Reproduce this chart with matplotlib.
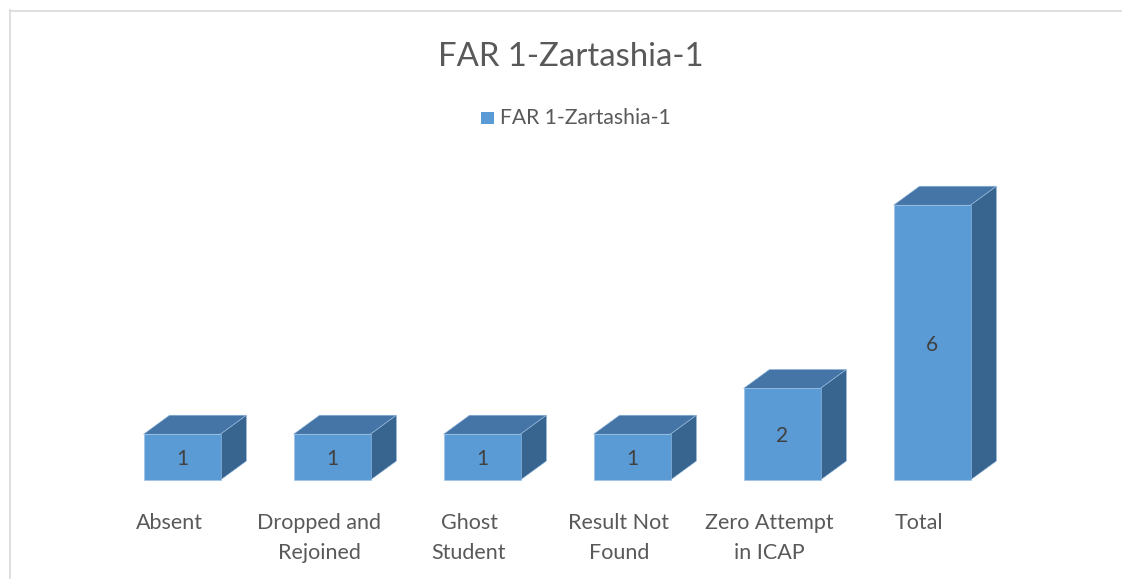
import matplotlib
matplotlib.use("Agg")
import matplotlib.pyplot as plt
from matplotlib.patches import Polygon, Rectangle
from matplotlib.lines import Line2D

# Chart data
categories = ["Absent", "Dropped and\nRejoined", "Ghost\nStudent",
              "Result Not\nFound", "Zero Attempt\nin ICAP", "Total"]
values = [1, 1, 1, 1, 2, 6]
series_name = "FAR 1-Zartashia-1"
chart_title = "FAR 1-Zartashia-1"

W, H = 1122, 579
fig = plt.figure(figsize=(W / 100, H / 100), dpi=100)
fig.patch.set_facecolor("white")

FONT = ["Lato", "DejaVu Sans"]
TXT = "#595959"
FRONT = "#5B9BD5"
TOP = "#4574A7"
SIDE = "#386590"
EDGE = "#9CC0E3"

# plotting area: 1 category = 150 px, 1 unit = 45.8 px, baseline at y=480 px
px_cat, px_unit = 150.0, 45.8
x_lo, x_hi = -1.0, 6.0
y_lo, y_hi = -1.6, 6.8
left_px = 182 - px_cat * (0 - x_lo)
base_px = H - 480
bottom_px = base_px + y_lo * px_unit
ax = fig.add_axes([left_px / W, bottom_px / H,
                   (x_hi - x_lo) * px_cat / W, (y_hi - y_lo) * px_unit / H])
ax.set_xlim(x_lo, x_hi)
ax.set_ylim(y_lo, y_hi)
ax.axis("off")

half_w = 77 / 2 / px_cat          # half width of the front face
dx = 26 / px_cat                  # depth offset to the right
dy = 19 / px_unit                 # depth offset upwards

for i, v in enumerate(values):
    x0, x1 = i - half_w, i + half_w
    top = Polygon([(x0, v), (x1, v), (x1 + dx, v + dy), (x0 + dx, v + dy)],
                  closed=True, facecolor=TOP, edgecolor=EDGE, lw=0.4,
                  clip_on=False)
    side = Polygon([(x1, 0), (x1 + dx, dy), (x1 + dx, v + dy), (x1, v)],
                   closed=True, facecolor=SIDE, edgecolor=EDGE, lw=0.4,
                   clip_on=False)
    front = Rectangle((x0, 0), x1 - x0, v, facecolor=FRONT,
                      edgecolor=EDGE, lw=0.4, clip_on=False)
    for p in (top, side, front):
        ax.add_patch(p)
    ax.text(i, v / 2, str(v), ha="center", va="center_baseline", fontsize=15,
            color="#404040", family=FONT)
    ax.text(i - 13 / px_cat, -0.71, categories[i], ha="center", va="top",
            fontsize=15.5, color=TXT, family=FONT, linespacing=1.63)

# title
fig.text(571 / W, 1 - 57 / H, chart_title, ha="center", va="center",
         fontsize=23.7, color=TXT, family=FONT)

# legend
fig.patches.append(Rectangle((481 / W, 1 - 124 / H), 13 / W, 12 / H,
                             transform=fig.transFigure, facecolor=FRONT,
                             edgecolor="none"))
fig.text(500 / W, 1 - 118 / H, series_name, ha="left", va="center",
         fontsize=15.2, color=TXT, family=FONT)

# chart border (light grey frame)
fig.lines.append(Line2D([9.5 / W, 9.5 / W], [0, 1 - 10 / H],
                        transform=fig.transFigure, color="#D9D9D9", lw=1.2))
fig.lines.append(Line2D([9.5 / W, 1], [1 - 10.5 / H, 1 - 10.5 / H],
                        transform=fig.transFigure, color="#D9D9D9", lw=1.2))

fig.savefig("out.png", dpi=100, facecolor="white")
